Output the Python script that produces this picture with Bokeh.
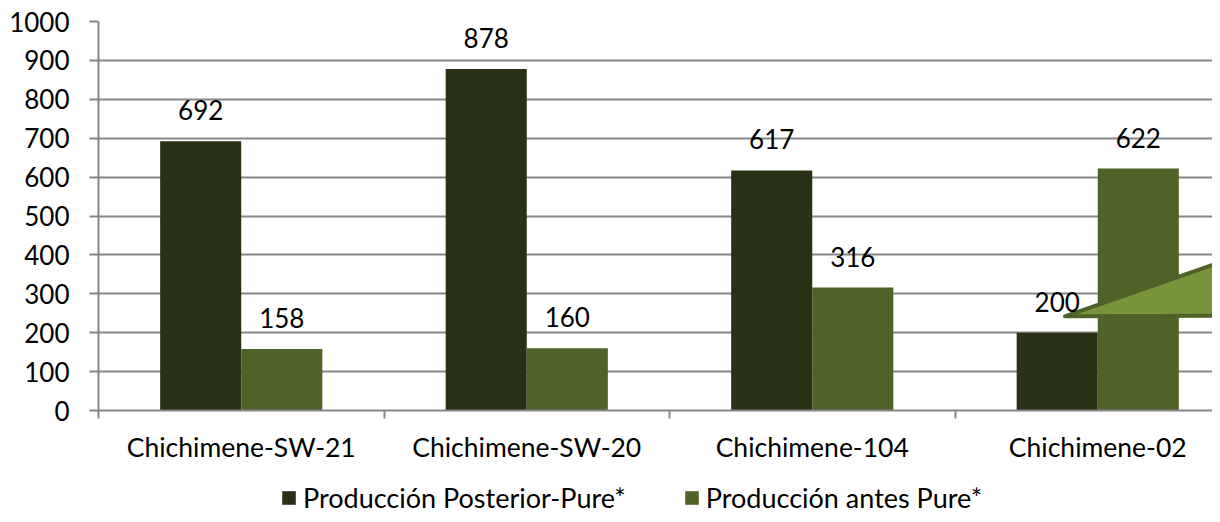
from bokeh.plotting import figure
from bokeh.layouts import column
from bokeh.models import (ColumnDataSource, FixedTicker, Legend, LegendItem, LabelSet, Range1d)
from bokeh.core.properties import value
from bokeh.embed import file_html
from bokeh.resources import INLINE

categories = ["Chichimene-SW-21", "Chichimene-SW-20", "Chichimene-104", "Chichimene-02"]
posterior = [692, 878, 617, 200]
antes = [158, 160, 316, 622]
series_names = ["Producción Posterior-Pure*", "Producción antes Pure*"]
y_ticks = [0, 100, 200, 300, 400, 500, 600, 700, 800, 900, 1000]

# decorative callout shape (data space)
shape_x = [3.385, 4.3, 4.3]
shape_y = [242, 476, 245]

FONT = "Lato"
FS = "26px"
DARK = "#283016"
GREEN = "#4F6228"
GRID = "#868686"

n = len(categories)
centers = [i + 0.5 for i in range(n)]
bw = 0.284

src = ColumnDataSource(dict(
    xd=[c - bw / 2 for c in centers], xg=[c + bw / 2 for c in centers],
    post=posterior, ante=antes,
    post_t=[str(v) for v in posterior], ante_t=[str(v) for v in antes],
))

W = 1212
H_MAIN = 465
H_LEG = 49

p = figure(width=W, height=H_MAIN, output_backend="svg", toolbar_location=None,
           x_range=Range1d(0, 1114 / 285.5), y_range=Range1d(0, 1000),
           min_border_left=98, min_border_right=0, min_border_top=21,
           min_border_bottom=H_MAIN - 410)
p.outline_line_color = None
p.background_fill_color = "white"
p.border_fill_color = "white"

p.vbar(x="xd", top="post", width=bw, source=src, fill_color=DARK, line_color=None)
p.vbar(x="xg", top="ante", width=bw, source=src, fill_color=GREEN, line_color=None)

for col, xcol in (("post", "xd"), ("ante", "xg")):
    p.add_layout(LabelSet(x=xcol, y=col, text=col + "_t", source=src, text_align="center",
                          text_baseline="alphabetic", y_offset=21, text_font=value(FONT),
                          text_font_size=value(FS), text_color="black"))

p.patch(shape_x, shape_y, fill_color="#77933C", line_color=GREEN, line_width=4, line_join="round")

# axes
p.xaxis.ticker = FixedTicker(ticks=centers, minor_ticks=list(range(n + 1)))
p.xaxis.major_label_overrides = {c: lab for c, lab in zip(centers, categories)}
p.xaxis.major_tick_out = 0
p.xaxis.major_tick_in = 0
p.xaxis.minor_tick_out = 8
p.xaxis.minor_tick_in = 0
p.xaxis.minor_tick_line_color = GRID
p.xaxis.minor_tick_line_width = 2
p.xaxis.axis_line_color = GRID
p.xaxis.axis_line_width = 2
p.xaxis.major_label_text_font = FONT
p.xaxis.major_label_text_font_size = "26.5px"
p.xaxis.major_label_text_color = "black"
p.xaxis.major_label_standoff = 12

p.yaxis.ticker = FixedTicker(ticks=y_ticks)
p.yaxis.major_tick_out = 9
p.yaxis.major_tick_in = 0
p.yaxis.minor_tick_line_color = None
p.yaxis.major_tick_line_color = GRID
p.yaxis.major_tick_line_width = 2
p.yaxis.axis_line_color = GRID
p.yaxis.axis_line_width = 2
p.yaxis.major_label_text_font = FONT
p.yaxis.major_label_text_font_size = FS
p.yaxis.major_label_text_color = "black"
p.yaxis.major_label_standoff = 20

p.xgrid.grid_line_color = None
p.ygrid.grid_line_color = GRID
p.ygrid.grid_line_width = 2

# legend strip
pl = figure(width=W, height=H_LEG, output_backend="svg", toolbar_location=None,
            x_axis_type=None, y_axis_type=None,
            x_range=Range1d(0, 1), y_range=Range1d(0, 1),
            min_border_left=0, min_border_right=0, min_border_top=0, min_border_bottom=0)
pl.grid.visible = False
pl.outline_line_color = None
lr1 = pl.vbar(x=[10], top=[0], width=0.1, fill_color=DARK, line_color=None)
lr2 = pl.vbar(x=[10], top=[0], width=0.1, fill_color=GREEN, line_color=None)
legend = Legend(items=[LegendItem(label=series_names[0], renderers=[lr1]),
                       LegendItem(label=series_names[1], renderers=[lr2])],
                orientation="horizontal", location=(182, 0), glyph_width=17, glyph_height=17,
                label_standoff=6, spacing=57, padding=0, margin=0,
                label_text_font=FONT, label_text_font_size="27px", label_text_color="black",
                border_line_color=None, background_fill_alpha=0)
pl.add_layout(legend, "center")

layout = column(p, pl, spacing=0)
open("out.html", "w").write(file_html(layout, INLINE))
